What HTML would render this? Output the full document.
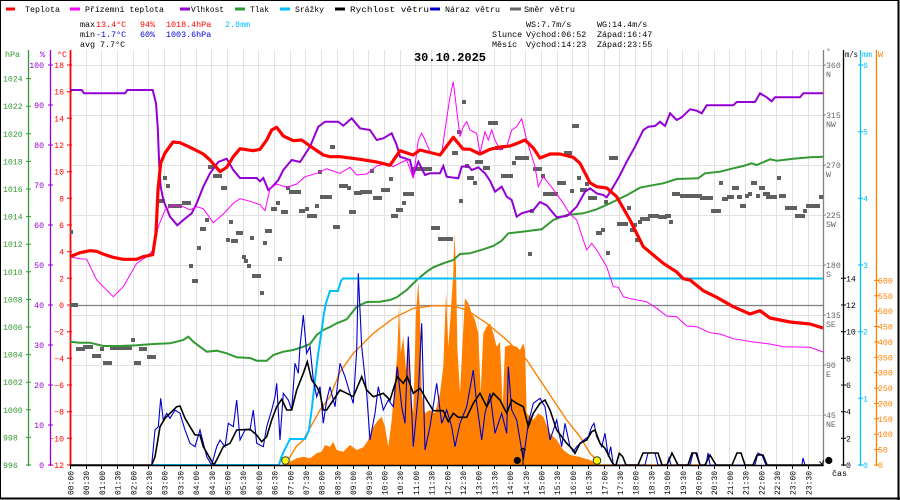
<!DOCTYPE html>
<html><head><meta charset="utf-8"><style>
html,body{margin:0;padding:0;background:#fff;}
svg{display:block;}
text{font-family:"Liberation Mono","DejaVu Sans Mono",monospace;}
</style></head><body>
<svg width="900" height="500" viewBox="0 0 900 500" xmlns="http://www.w3.org/2000/svg">
<rect x="0" y="0" width="900" height="500" fill="#fff"/>
<!-- grid -->
<path stroke="#e2e2e2" stroke-width="1" fill="none" d="M86.5 50V465M101.5 50V465M117.5 50V465M133.5 50V465M148.5 50V465M164.5 50V465M180.5 50V465M196.5 50V465M211.5 50V465M227.5 50V465M243.5 50V465M258.5 50V465M274.5 50V465M290.5 50V465M305.5 50V465M321.5 50V465M337.5 50V465M353.5 50V465M368.5 50V465M384.5 50V465M400.5 50V465M415.5 50V465M431.5 50V465M447.5 50V465M462.5 50V465M478.5 50V465M494.5 50V465M510.5 50V465M525.5 50V465M541.5 50V465M557.5 50V465M572.5 50V465M588.5 50V465M604.5 50V465M619.5 50V465M635.5 50V465M651.5 50V465M667.5 50V465M682.5 50V465M698.5 50V465M714.5 50V465M729.5 50V465M745.5 50V465M761.5 50V465M776.5 50V465M792.5 50V465M808.5 50V465M70 65.5H823M70 115.5H823M70 165.5H823M70 215.5H823M70 265.5H823M70 315.5H823M70 365.5H823M70 415.5H823"/>
<rect x="0.5" y="0.5" width="898" height="498" fill="none" stroke="#000" stroke-width="1"/>
<line x1="898.5" y1="0" x2="898.5" y2="500" stroke="#000" stroke-width="2"/>
<line x1="0" y1="498.5" x2="900" y2="498.5" stroke="#000" stroke-width="2"/>

<!-- legend -->
<g font-size="8.5">
<rect x="6" y="7.5" width="9" height="3" fill="#ff0000"/><text x="25" y="12" textLength="35" lengthAdjust="spacingAndGlyphs">Teplota</text>
<rect x="70" y="7.5" width="10" height="3" fill="#ff00ff"/><text x="85" y="12" textLength="79" lengthAdjust="spacingAndGlyphs">Přízemní teplota</text>
<rect x="180" y="7.5" width="10" height="3" fill="#9400d3"/><text x="191" y="12" textLength="33" lengthAdjust="spacingAndGlyphs">Vlhkost</text>
<rect x="235" y="7.5" width="10" height="3" fill="#339933"/><text x="250" y="12" textLength="19" lengthAdjust="spacingAndGlyphs">Tlak</text>
<rect x="280" y="7.5" width="10" height="3" fill="#00bfff"/><text x="295" y="12" textLength="29" lengthAdjust="spacingAndGlyphs">Srážky</text>
<rect x="335" y="7.5" width="10" height="3" fill="#000"/><text x="350" y="12" textLength="79" lengthAdjust="spacingAndGlyphs">Rychlost větru</text>
<rect x="430" y="7.5" width="10" height="3" fill="#0000cc"/><text x="445" y="12" textLength="55" lengthAdjust="spacingAndGlyphs">Náraz větru</text>
<rect x="510" y="7.5" width="11" height="3" fill="#666"/><text x="524" y="12" textLength="51" lengthAdjust="spacingAndGlyphs">Směr větru</text>
</g>

<!-- stats -->
<g font-size="8.4">
<text x="80" y="27">max</text><text x="96" y="27" fill="#ff0000">13.4°C</text><text x="140" y="27" fill="#ff0000">94%</text><text x="166" y="27" fill="#ff0000">1018.4hPa</text><text x="225" y="27" fill="#00bfff">2.8mm</text>
<text x="80" y="37">min</text><text x="96" y="37" fill="#0000dd">-1.7°C</text><text x="140" y="37" fill="#0000dd">60%</text><text x="166" y="37" fill="#0000dd">1003.6hPa</text>
<text x="80" y="47">avg</text><text x="100" y="47">7.7°C</text>
<text x="526" y="27">WS:7.7m/s</text><text x="597" y="27">WG:14.4m/s</text>
<text x="492" y="37">Slunce</text><text x="526" y="37">Východ:06:52</text><text x="597" y="37">Západ:16:47</text>
<text x="492" y="47">Měsíc</text><text x="526" y="47">Východ:14:23</text><text x="597" y="47">Západ:23:55</text>
</g>
<text x="450" y="61" font-size="12" font-weight="bold" text-anchor="middle">30.10.2025</text>

<!-- axis headers -->
<g font-size="8.4">
<text x="5" y="57" fill="#339933">hPa</text>
<text x="40" y="57" fill="#9400d3">%</text>
<text x="57" y="57" fill="#ff0000">°C</text>
<text x="826" y="54" fill="#666">°</text>
<text x="845" y="57" fill="#000" textLength="13" lengthAdjust="spacingAndGlyphs">m/s</text>
<text x="862" y="57" fill="#00bfff" textLength="10" lengthAdjust="spacingAndGlyphs">mm</text>
<text x="878" y="57" fill="#ff8000">W</text>
</g>

<!-- left axes lines -->
<line x1="28.5" y1="50" x2="28.5" y2="466" stroke="#339933" stroke-width="1.3"/>
<line x1="50.5" y1="50" x2="50.5" y2="466" stroke="#9400d3" stroke-width="1.3"/>
<line x1="70.5" y1="50" x2="70.5" y2="466" stroke="#ff0000" stroke-width="1.8"/>
<!-- right axes lines -->
<line x1="823.5" y1="50" x2="823.5" y2="466" stroke="#808080" stroke-width="1.3"/>
<line x1="843.5" y1="50" x2="843.5" y2="466" stroke="#000" stroke-width="1.3"/>
<line x1="860.5" y1="50" x2="860.5" y2="466" stroke="#00bfff" stroke-width="1.3"/>
<line x1="876.5" y1="50" x2="876.5" y2="466" stroke="#ff8000" stroke-width="1.3"/>

<!-- hPa labels -->
<g font-size="8.2" fill="#339933">
<text x="3" y="81.6">1024</text><text x="3" y="109.2">1022</text><text x="3" y="136.8">1020</text><text x="3" y="164.4">1018</text><text x="3" y="192">1016</text><text x="3" y="219.6">1014</text><text x="3" y="247.2">1012</text><text x="3" y="274.8">1010</text><text x="3" y="302.4">1008</text><text x="3" y="330">1006</text><text x="3" y="357.6">1004</text><text x="3" y="385.2">1002</text><text x="3" y="412.8">1000</text><text x="3" y="440.4">998</text><text x="3" y="468">996</text>
</g>
<path stroke="#339933" stroke-width="1" d="M26 78.6H31M26 106.2H31M26 133.8H31M26 161.4H31M26 189H31M26 216.6H31M26 244.2H31M26 271.8H31M26 299.4H31M26 327H31M26 354.6H31M26 382.2H31M26 409.8H31M26 437.4H31M26 465H31"/>
<!-- % labels -->
<g font-size="8.2" fill="#9400d3" text-anchor="end">
<text x="44" y="68">100</text><text x="44" y="108">90</text><text x="44" y="148">80</text><text x="44" y="188">70</text><text x="44" y="228">60</text><text x="44" y="268">50</text><text x="44" y="308">40</text><text x="44" y="348">30</text><text x="44" y="388">20</text><text x="44" y="428">10</text><text x="44" y="468">0</text>
</g>
<path stroke="#9400d3" stroke-width="1" d="M48 65H53M48 105H53M48 145H53M48 185H53M48 225H53M48 265H53M48 305H53M48 345H53M48 385H53M48 425H53M48 465H53"/>
<!-- °C labels -->
<g font-size="8.2" fill="#ff0000" text-anchor="end">
<text x="64" y="68">18</text><text x="64" y="94.7">16</text><text x="64" y="121.3">14</text><text x="64" y="148">12</text><text x="64" y="174.7">10</text><text x="64" y="201.3">8</text><text x="64" y="228">6</text><text x="64" y="254.7">4</text><text x="64" y="281.3">2</text><text x="64" y="308">0</text><text x="64" y="334.7">−2</text><text x="64" y="361.3">−4</text><text x="64" y="388">−6</text><text x="64" y="414.7">−8</text><text x="64" y="441.3">−10</text><text x="64" y="468">−12</text>
</g>
<path stroke="#ff0000" stroke-width="1" d="M67 65H72M67 91.7H72M67 118.3H72M67 145H72M67 171.7H72M67 198.3H72M67 225H72M67 251.7H72M67 278.3H72M67 305H72M67 331.7H72M67 358.3H72M67 385H72M67 411.7H72M67 438.3H72M67 465H72"/>

<!-- direction labels -->
<g font-size="8.2" fill="#666">
<text x="826" y="68">360</text><text x="826" y="77">N</text>
<text x="826" y="118">315</text><text x="826" y="127">NW</text>
<text x="826" y="168">270</text><text x="826" y="177">W</text>
<text x="826" y="218">225</text><text x="826" y="227">SW</text>
<text x="826" y="268">180</text><text x="826" y="277">S</text>
<text x="826" y="318">135</text><text x="826" y="327">SE</text>
<text x="826" y="368">90</text><text x="826" y="377">E</text>
<text x="826" y="418">45</text><text x="826" y="427">NE</text>
</g>
<path stroke="#808080" stroke-width="1" d="M823 65H826M823 115H826M823 165H826M823 215H826M823 265H826M823 315H826M823 365H826M823 415H826"/>
<!-- m/s labels -->
<g font-size="8.2" fill="#000">
<text x="846" y="281.3">14</text><text x="846" y="308">12</text><text x="846" y="334.7">10</text><text x="846" y="361.3">8</text><text x="846" y="388">6</text><text x="846" y="414.7">4</text><text x="846" y="441.3">2</text><text x="846" y="468">0</text>
</g>
<path stroke="#000" stroke-width="1" d="M841 278.3H846M841 305H846M841 331.7H846M841 358.3H846M841 385H846M841 411.7H846M841 438.3H846M841 465H846"/>
<!-- mm labels -->
<g font-size="8.2" fill="#00bfff">
<text x="863" y="68">6</text><text x="863" y="134.7">5</text><text x="863" y="201.3">4</text><text x="863" y="268">3</text><text x="863" y="334.7">2</text><text x="863" y="401.3">1</text><text x="863" y="468">0</text>
</g>
<path stroke="#00bfff" stroke-width="1" d="M858 65H863M858 131.7H863M858 198.3H863M858 265H863M858 331.7H863M858 398.3H863M858 465H863"/>
<!-- W labels -->
<g font-size="8.2" fill="#ff8000">
<text x="878" y="283.4">600</text><text x="878" y="298.8">550</text><text x="878" y="314.1">500</text><text x="878" y="329.5">450</text><text x="878" y="344.9">400</text><text x="878" y="360.3">350</text><text x="878" y="375.7">300</text><text x="878" y="391.1">250</text><text x="878" y="406.5">200</text><text x="878" y="421.8">150</text><text x="878" y="437.2">100</text><text x="878" y="452.6">50</text><text x="878" y="468">0</text>
</g>
<path stroke="#ff8000" stroke-width="1" d="M874 280.4H879M874 295.8H879M874 311.1H879M874 326.5H879M874 341.9H879M874 357.3H879M874 372.7H879M874 388.1H879M874 403.5H879M874 418.8H879M874 434.2H879M874 449.6H879M874 465H879"/>

<!-- 0°C line -->
<line x1="70" y1="305.5" x2="823" y2="305.5" stroke="#808080" stroke-width="1.2"/>

<!-- solar area -->
<polygon fill="#ff8000" points="283,465 286.7,465 290,461.7 296.7,458.3 303.3,456.7 310,458.3 316.7,453.3 321.7,451.7 325,445 330,446.7 333.3,441.7 336.7,450 343.3,451.7 350,445 356.7,450 363.3,447.3 368.3,440 373.3,426.7 378.3,420 381.7,416.7 385,426.7 388.3,446.7 391.7,420 395,380 397.3,353.3 399,305 400.7,353.3 403.3,336.7 406,370 408.3,333.3 410.7,396.7 413.3,413.3 416,313.3 418.3,281.7 420,313.3 421.7,393.3 425,413.3 430,410 435,413.3 440,393.3 443.3,366.7 446,291.7 448.3,346.7 450.7,313.3 453.3,273.3 454.3,233.3 456,266.7 457.3,346.7 460,393.3 462.7,340 465,298.3 468.3,303.3 471.7,313.3 475,320 478.3,333.3 480.7,393.3 483.3,333.3 486.7,326.7 490,323.3 493.3,333.3 496.7,346.7 500,341.7 502.7,406.7 505,346.7 510,345 516.7,346.7 520,350 523.3,343.3 525,350 526.7,413.3 533.3,420 538.3,413.3 543.3,416.7 550,433.3 556.7,440 563.3,450 570,455 580,457 590,460 600,465"/>
<!-- solar max curve -->
<polyline fill="none" stroke="#ff8000" stroke-width="1.4" points="283,465 290,457 296,447 303.3,440 310,428 320,410 330,396.7 340,372 353.3,353.3 373.3,333.3 393.3,318.3 413.3,308.3 433.3,305.7 453.3,306 466.7,310 486.7,323.3 506.7,340 526.7,360 546.7,390 566.7,420 580,436.7 590,453.3 596.7,460 600,465 700,465"/>

<!-- wind direction -->
<g fill="#606060">
<rect x="70" y="303" width="8" height="4"/><rect x="76" y="347" width="9" height="4"/><rect x="83" y="345" width="10" height="4"/><rect x="92" y="354" width="9" height="4"/><rect x="100" y="347" width="4" height="4"/><rect x="103" y="361" width="9" height="4"/><rect x="110" y="346" width="22" height="4"/><rect x="131" y="338" width="4" height="4"/><rect x="134" y="361" width="7" height="4"/><rect x="139" y="347" width="8" height="4"/><rect x="147" y="355" width="9" height="4"/>
<rect x="70" y="230" width="3" height="4"/><rect x="156" y="199" width="9" height="4"/><rect x="163" y="176" width="4" height="4"/><rect x="166" y="184" width="4" height="4"/><rect x="168" y="204" width="14" height="4"/><rect x="182" y="201" width="9" height="4"/><rect x="189" y="264" width="4" height="4"/><rect x="192" y="279" width="6" height="4"/><rect x="197" y="246" width="4" height="4"/><rect x="200" y="227" width="6" height="4"/><rect x="205" y="218" width="4" height="4"/><rect x="208" y="165" width="6" height="4"/><rect x="213" y="174" width="9" height="4"/><rect x="221" y="186" width="6" height="4"/><rect x="226" y="238" width="4" height="4"/><rect x="229" y="220" width="4" height="4"/><rect x="231" y="239" width="7" height="4"/><rect x="236" y="231" width="7" height="4"/><rect x="242" y="255" width="4" height="4"/><rect x="244" y="259" width="4" height="4"/><rect x="247" y="264" width="4" height="4"/><rect x="250" y="236" width="4" height="4"/><rect x="252" y="274" width="9" height="4"/><rect x="260" y="291" width="4" height="4"/><rect x="263" y="241" width="4" height="4"/><rect x="265" y="229" width="7" height="4"/><rect x="271" y="207" width="6" height="4"/><rect x="276" y="201" width="4" height="4"/><rect x="278" y="257" width="4" height="4"/><rect x="281" y="210" width="7" height="4"/><rect x="286" y="186" width="4" height="4"/><rect x="289" y="190" width="12" height="4"/><rect x="299" y="209" width="6" height="4"/><rect x="305" y="207" width="4" height="4"/><rect x="307" y="214" width="10" height="4"/><rect x="315" y="204" width="4" height="4"/><rect x="318" y="170" width="4" height="4"/><rect x="320" y="195" width="12" height="4"/>
<rect x="330" y="145" width="5" height="4"/><rect x="333" y="225" width="7" height="4"/><rect x="339" y="184" width="9" height="4"/><rect x="347" y="186" width="4" height="4"/><rect x="349" y="210" width="7" height="4"/><rect x="354" y="191" width="8" height="4"/><rect x="360" y="190" width="12" height="4"/><rect x="370" y="169" width="4" height="4"/><rect x="373" y="196" width="9" height="4"/><rect x="381" y="188" width="9" height="4"/><rect x="389" y="177" width="4" height="4"/><rect x="391" y="214" width="7" height="4"/><rect x="396" y="208" width="7" height="4"/><rect x="402" y="201" width="4" height="4"/><rect x="403" y="192" width="11" height="4"/><rect x="412" y="167" width="20" height="4"/><rect x="431" y="226" width="9" height="4"/><rect x="438" y="237" width="15" height="4"/><rect x="452" y="151" width="6" height="4"/><rect x="457" y="130" width="4" height="4"/><rect x="459" y="199" width="4" height="4"/><rect x="462" y="100" width="4" height="4"/><rect x="465" y="164" width="4" height="4"/><rect x="467" y="176" width="7" height="4"/><rect x="473" y="181" width="4" height="4"/><rect x="475" y="160" width="8" height="4"/><rect x="483" y="166" width="7" height="4"/><rect x="488" y="121" width="10" height="4"/><rect x="495" y="146" width="8" height="4"/><rect x="501" y="174" width="12" height="4"/><rect x="512" y="161" width="4" height="4"/><rect x="515" y="156" width="14" height="4"/><rect x="528" y="252" width="4" height="4"/><rect x="530" y="209" width="4" height="4"/><rect x="533" y="167" width="9" height="4"/><rect x="541" y="174" width="4" height="4"/><rect x="543" y="192" width="15" height="4"/><rect x="557" y="181" width="9" height="4"/><rect x="564" y="151" width="8" height="4"/><rect x="570" y="189" width="4" height="4"/><rect x="572" y="124" width="7" height="4"/><rect x="577" y="176" width="4" height="4"/>
<rect x="580" y="188" width="7" height="4"/><rect x="585" y="182" width="4" height="4"/><rect x="588" y="196" width="9" height="4"/><rect x="596" y="231" width="6" height="4"/><rect x="601" y="228" width="4" height="4"/><rect x="604" y="200" width="4" height="4"/><rect x="606" y="251" width="4" height="4"/><rect x="609" y="156" width="9" height="4"/><rect x="617" y="222" width="11" height="4"/><rect x="627" y="206" width="4" height="4"/><rect x="630" y="228" width="4" height="4"/><rect x="633" y="223" width="4" height="4"/><rect x="635" y="238" width="4" height="4"/><rect x="638" y="220" width="4" height="4"/><rect x="640" y="217" width="10" height="4"/><rect x="648" y="214" width="11" height="4"/><rect x="658" y="215" width="9" height="4"/><rect x="665" y="214" width="6" height="4"/><rect x="669" y="220" width="4" height="4"/><rect x="672" y="192" width="8" height="4"/><rect x="680" y="194" width="22" height="4"/><rect x="700" y="196" width="13" height="4"/><rect x="711" y="209" width="10" height="4"/><rect x="719" y="181" width="4" height="4"/><rect x="722" y="197" width="6" height="4"/><rect x="727" y="195" width="7" height="4"/><rect x="732" y="186" width="7" height="4"/><rect x="737" y="195" width="5" height="4"/><rect x="740" y="204" width="6" height="4"/><rect x="745" y="194" width="4" height="4"/><rect x="748" y="192" width="4" height="4"/><rect x="751" y="181" width="6" height="4"/><rect x="756" y="194" width="4" height="4"/><rect x="759" y="186" width="6" height="4"/><rect x="763" y="192" width="7" height="4"/><rect x="766" y="195" width="11" height="4"/><rect x="777" y="176" width="4" height="4"/><rect x="779" y="194" width="7" height="4"/><rect x="785" y="206" width="12" height="4"/><rect x="795" y="214" width="10" height="4"/><rect x="803" y="209" width="4" height="4"/><rect x="806" y="204" width="14" height="4"/><rect x="819" y="195" width="4" height="4"/>
</g>

<!-- pressure -->
<polyline fill="none" stroke="#339933" stroke-width="2" points="70,341.7 80,342.7 90,342.7 103.3,346 120,346 136.7,345.3 153.3,344 170,343.3 183.3,340 188.3,336.7 193.3,341.7 206.7,351.7 216.7,350.7 226.7,353.3 236.7,357.3 250,358 256.7,360.7 266.7,360.7 273.3,355 283.3,351.7 293.3,350 303.3,346.7 310,344 316.7,335 323.3,330 330,327 336.7,323.3 346.7,319.3 356.7,306.7 366.7,302 380,301.7 390,300 396.7,297.3 406.7,290 416.7,280 426.7,271.7 433.3,267.3 443.3,263.3 453.3,260 460,254 470,253.3 483.3,249.3 493.3,246 501.7,240.7 508.3,233.3 520,232 530,230.7 541.7,229.3 553.3,220 566.7,215 583.3,213.3 596.7,209.3 610,203.3 626.7,195.3 640,187.7 650,185.7 663.3,183.3 676.7,179 698.3,178.3 705,173.3 720,171.7 733.3,168.3 743.3,166 751.7,163.3 756.7,165 770,159.3 776.7,160.7 793.3,158.7 810,157.3 823,156.7"/>

<!-- precipitation -->
<polyline fill="none" stroke="#00bfff" stroke-width="2" points="153,465 279,465 281,458 284,451 290,439 305,439 309,430 312,407 315,380 318,355 321,335 324,313 326,303 330,291 338,291 341,281 343,278.5 823,278.5"/>

<!-- humidity -->
<polyline fill="none" stroke="#9400d3" stroke-width="2" points="70,90 81.7,90 84,93.3 125,93.3 127.3,90 152.7,90 156,103.3 157.7,126.7 159.3,166.7 160.7,186.7 163.3,200 170,216.7 177.3,225.3 183.3,220 191.7,213.3 196.7,203.3 203.3,186.7 210,173.3 218.3,162 226.7,158.7 233.3,170 240,178 256.7,178 260,181.3 263.3,178 268.3,190 271.7,187.3 278.3,180 283.3,170 291.7,160 300,162 310,146.7 318.3,126.7 325,121.7 338.3,121.7 343.3,125.7 351.7,118.3 360,128.3 370,130 376.7,140 383.3,138.3 391.7,133.3 396.7,145 400,156.7 410,160 413.3,175 418.3,161.7 425,175 430,173.3 440,173.3 443.3,166 446.7,176.7 458.3,178.3 461.7,166.7 468.3,166 471.7,170 478.3,167.3 485,173.3 490,180.7 495,191.7 501.7,186.7 506.7,196.7 511.7,200 516.7,216.7 521.7,213.3 533.3,210 540,202 546.7,205.3 553.3,213.3 556.7,217.3 566.7,216 570,213.3 576.7,206.7 585,191.7 590,188.3 596.7,193.3 603.3,195 606.7,197.3 613.3,186.7 620,175 626.7,161.7 635,146.7 643.3,130 648.3,126.7 655,126 660,121.7 665,126 670,113.3 676.7,120 681.7,117.3 690,109.3 696.7,110.7 701.7,113.3 706.7,105.3 733.3,105.3 736.7,102 755,102 760,93.3 766.7,97.3 771.7,101.3 775,97.3 800,97.3 803.3,93.3 823,93.3"/>

<!-- feels-like temperature -->
<polyline fill="none" stroke="#ff00ff" stroke-width="1" points="70,256.7 80,258.7 86.7,259.3 96.7,280 103.3,286.7 113.3,296.7 123.3,286.7 136.7,263.3 146.7,256.7 153.3,250 158.3,226.7 165,210 173.3,205.3 183.3,206.7 190,210 196.7,206.7 203.3,208.7 213.3,222.7 223.3,214 233.3,203.3 240,198.7 250,201.3 260,204.7 265,210.7 270,188.7 276.7,184 286.7,187.3 296.7,184 305,176.7 316.7,173.3 326.7,168.7 330,170 340,173.3 350,167.3 356.7,175 366.7,174 376.7,166 386.7,163.3 393.3,166.7 400,163 406.7,160 413.3,178.3 418.3,140 421.7,133.3 425,140 430,151.7 436.7,155 441.7,153.3 445,130 450,96.7 453.3,81.7 456.7,110 460,136.7 463.3,126.7 466.7,121.7 470,130 476.7,133.3 480,153.3 485,131.7 488.3,140 491.7,130 495,140 500,150 506.7,146.7 511.7,130 516.7,126.7 521.7,118.7 526.7,140 535,166.7 538.3,186.7 543.3,176.7 553.3,189.3 563.3,203.3 570,214 576.7,220 583.3,240 586.7,250 591.7,243.3 596.7,250 606.7,266.7 613.3,286.7 618.3,287.3 623.3,296.7 630,298.7 646.7,301.7 656.7,308.3 666.7,316 676.7,316.7 686.7,326 696.7,326.7 710,332.7 720,334 733.3,338.7 753.3,342 770,344 783.3,346.7 810,347.3 823,352"/>

<!-- temperature -->
<polyline fill="none" stroke="#ff0000" stroke-width="3.2" stroke-linejoin="round" points="70,256.7 80,252.7 90,250.7 96.7,251.3 103,254 113,257.3 123,259.3 136.7,259.3 143,256.7 152.7,254.7 156,233 158,190 160.7,163 165,153 173,142 180,142.7 190,147.3 203.3,154 210,160 220,171.7 226.7,167.3 233.3,156.7 240,148.7 253,150.7 260,149.3 266.7,140 271.7,130 276.7,127.3 283.3,136 293.3,140.7 301.7,140 310,146 323.3,155 330,156.7 340,156.7 360,159.3 376.7,162 390,165.3 400,150.7 413,155 420,150 440,155 453.3,137.3 463,149 470,149.3 480,154 490,149.3 500,147 510,146 518,143 525,140 533.3,148 540,158 550,154 560,154 573.3,157.3 580,163.3 590,182.7 596.7,186.7 606.7,188 616.7,196.7 630,220 643.3,246.7 653.3,255 663.3,263.3 676.7,272 683.3,278.7 690,280 703.3,290.7 716.7,297.3 733.3,306.7 750,314 760,310.7 770,318 790,322 810,324 823,328"/>

<!-- gusts -->
<polyline fill="none" stroke="#0000cc" stroke-width="1.1" points="70,465 151.7,465 155,430 158.3,426.7 160.7,398.3 163.3,420 166.7,413.3 170,418.3 175,410 180,413.3 185,430 190,443.3 195,446.7 200,430 206.7,456.7 211.7,465 216.7,446.7 220,440 225,446.7 228.3,423.3 233.3,426.7 236.7,400 240,440 245,430 250,430 253.3,410 256.7,443.3 263.3,446.7 266.7,426.7 271.7,410 275,396.7 276.7,383.3 280,440 283.3,393.3 288.3,400 291.7,410 295,363.3 298.3,373.3 300,346.7 303.3,315 306.7,353.3 310,346.7 313.3,380 316.7,396.7 320,386.7 323.3,423.3 326.7,400 330,386.7 335,406.7 340,363.3 345,376.7 350,393.3 353.3,403.3 356.7,350 358.3,273.3 361.7,346.7 366.7,393.3 370,440 375,413.3 378.3,386.7 383.3,410 388.3,400 393.3,406.7 397.3,366.7 401.7,406.7 405,423.3 408.3,336.7 413.3,446.7 418.3,393.3 421.7,323.3 425,450 430,426.7 436.7,383.3 441.7,423.3 446.7,410 451.7,426.7 455,446.7 460,423.3 466.7,406.7 473.3,370 476.7,403.3 481.7,440 485,413.3 490,393.3 495,433.3 501.7,413.3 506.7,433.3 508.3,366.7 511.7,410 516.7,420 523.3,460 528.3,423.3 533.3,403.3 540,398.3 545,406.7 550,440 556.7,420 561.7,446.7 565,423.3 570,446.7 573.3,451.7 576.7,446.7 581.7,441.7 588.3,436.7 591.7,426.7 594,423.3 596.7,436.7 601.7,446.7 605,433.3 608.3,456.7 610.7,446.7 613.3,465 645,465 648,453 655,453 658,465 667,465 669,458 671,465 690,465 693,453 697,453 700,465 706,465 708,453 710,465 755,465 758,453 762,455 766,465 802,465 803,458 805,465 823,465"/>

<!-- wind speed -->
<polyline fill="none" stroke="#000" stroke-width="1.6" points="70,465 151.7,465 155,456.7 157.3,443.3 160,426.7 165,418.3 170,413.3 176.7,406.7 180,406 185,418.3 190,426.7 195,435 200,435 203.3,446.7 210,458.3 214,465 218.3,456.7 223.3,446.7 230,443.3 236.7,430 250,429.3 256.7,435 261.7,441.7 266.7,436.7 271.7,420 276.7,406.7 281.7,399.3 286.7,410 291.7,410 296.7,390 303.3,373.3 307.3,361.7 311.7,380 316.7,386.7 320,393.3 323.3,410 326.7,410 333.3,400 340,390 346.7,393.3 353.3,396.7 361.7,376.7 366.7,390 373.3,396.7 383.3,393.3 390,400 397.3,376.7 403.3,383.3 407.3,376.7 413.3,393.3 420,388.3 426.7,400 433.3,410.7 443.3,410.7 448.3,421.7 453.3,413.3 458.3,417.3 466.7,417.3 473.3,403.3 480,393.3 486.7,406.7 493.3,393.3 500,400 506.7,413.3 511.7,400 516.7,403.3 523.3,406.7 528.3,426.7 533.3,413.3 540,403.3 545,400 550,410 556.7,430 566.7,443.3 573.3,450 575,453.3 580,443.3 586.7,440 591.7,431.7 595,430 600,443.3 605,448.3 611.7,461.7 614,465 616,465 619.3,453.3 622.7,456.7 626,465 638,465 643,453 658,453 662,465 667,465 672,453 678,465 688,465 692,453 696,453 700,465 705,465 710,455 716,465 732,465 737,453 741,453 745,465 753,465 757,455 763,455 767,465 823,465"/>

<!-- x axis -->
<line x1="70" y1="465.5" x2="823.5" y2="465.5" stroke="#000" stroke-width="1.5"/>
<path stroke="#000" stroke-width="1" d="M70.5 466V469M86.5 466V469M101.5 466V469M117.5 466V469M133.5 466V469M148.5 466V469M164.5 466V469M180.5 466V469M196.5 466V469M211.5 466V469M227.5 466V469M243.5 466V469M258.5 466V469M274.5 466V469M290.5 466V469M305.5 466V469M321.5 466V469M337.5 466V469M353.5 466V469M368.5 466V469M384.5 466V469M400.5 466V469M415.5 466V469M431.5 466V469M447.5 466V469M462.5 466V469M478.5 466V469M494.5 466V469M510.5 466V469M525.5 466V469M541.5 466V469M557.5 466V469M572.5 466V469M588.5 466V469M604.5 466V469M619.5 466V469M635.5 466V469M651.5 466V469M667.5 466V469M682.5 466V469M698.5 466V469M714.5 466V469M729.5 466V469M745.5 466V469M761.5 466V469M776.5 466V469M792.5 466V469M808.5 466V469"/>

<!-- sun / moon markers -->
<circle cx="285.5" cy="460.5" r="3.8" fill="#ffff00" stroke="#333" stroke-width="1"/>
<circle cx="597" cy="460.5" r="3.8" fill="#ffff00" stroke="#333" stroke-width="1"/>
<circle cx="517.3" cy="460.5" r="3.6" fill="#000"/>
<path d="M523 466V448M520.5 450.5Q523 446 525.5 450.5" stroke="#000" stroke-width="1" fill="none"/>
<circle cx="828.8" cy="460.5" r="3.6" fill="#000"/>
<path d="M819.5 461.5L822.5 464.5L823.5 460" stroke="#000" stroke-width="1" fill="none"/>

<!-- x labels -->
<g font-size="8">
<text transform="translate(73.5,495) rotate(-90)">00:00</text>
<text transform="translate(89.2,495) rotate(-90)">00:30</text>
<text transform="translate(104.9,495) rotate(-90)">01:00</text>
<text transform="translate(120.6,495) rotate(-90)">01:30</text>
<text transform="translate(136.3,495) rotate(-90)">02:00</text>
<text transform="translate(152,495) rotate(-90)">02:30</text>
<text transform="translate(167.7,495) rotate(-90)">03:00</text>
<text transform="translate(183.4,495) rotate(-90)">03:30</text>
<text transform="translate(199.1,495) rotate(-90)">04:00</text>
<text transform="translate(214.8,495) rotate(-90)">04:30</text>
<text transform="translate(230.5,495) rotate(-90)">05:00</text>
<text transform="translate(246.2,495) rotate(-90)">05:30</text>
<text transform="translate(261.9,495) rotate(-90)">06:00</text>
<text transform="translate(277.6,495) rotate(-90)">06:30</text>
<text transform="translate(293.3,495) rotate(-90)">07:00</text>
<text transform="translate(309,495) rotate(-90)">07:30</text>
<text transform="translate(324.7,495) rotate(-90)">08:00</text>
<text transform="translate(340.4,495) rotate(-90)">08:30</text>
<text transform="translate(356.1,495) rotate(-90)">09:00</text>
<text transform="translate(371.8,495) rotate(-90)">09:30</text>
<text transform="translate(387.5,495) rotate(-90)">10:00</text>
<text transform="translate(403.2,495) rotate(-90)">10:30</text>
<text transform="translate(418.9,495) rotate(-90)">11:00</text>
<text transform="translate(434.6,495) rotate(-90)">11:30</text>
<text transform="translate(450.3,495) rotate(-90)">12:00</text>
<text transform="translate(466,495) rotate(-90)">12:30</text>
<text transform="translate(481.7,495) rotate(-90)">13:00</text>
<text transform="translate(497.4,495) rotate(-90)">13:30</text>
<text transform="translate(513.1,495) rotate(-90)">14:00</text>
<text transform="translate(528.8,495) rotate(-90)">14:30</text>
<text transform="translate(544.5,495) rotate(-90)">15:00</text>
<text transform="translate(560.2,495) rotate(-90)">15:30</text>
<text transform="translate(575.9,495) rotate(-90)">16:00</text>
<text transform="translate(591.6,495) rotate(-90)">16:30</text>
<text transform="translate(607.3,495) rotate(-90)">17:00</text>
<text transform="translate(623,495) rotate(-90)">17:30</text>
<text transform="translate(638.7,495) rotate(-90)">18:00</text>
<text transform="translate(654.4,495) rotate(-90)">18:30</text>
<text transform="translate(670.1,495) rotate(-90)">19:00</text>
<text transform="translate(685.8,495) rotate(-90)">19:30</text>
<text transform="translate(701.5,495) rotate(-90)">20:00</text>
<text transform="translate(717.2,495) rotate(-90)">20:30</text>
<text transform="translate(732.9,495) rotate(-90)">21:00</text>
<text transform="translate(748.6,495) rotate(-90)">21:30</text>
<text transform="translate(764.3,495) rotate(-90)">22:00</text>
<text transform="translate(780,495) rotate(-90)">22:30</text>
<text transform="translate(795.7,495) rotate(-90)">23:00</text>
<text transform="translate(811.4,495) rotate(-90)">23:30</text>
</g>
<text x="832" y="476" font-size="8.4">čas</text>
</svg>
</body></html>
